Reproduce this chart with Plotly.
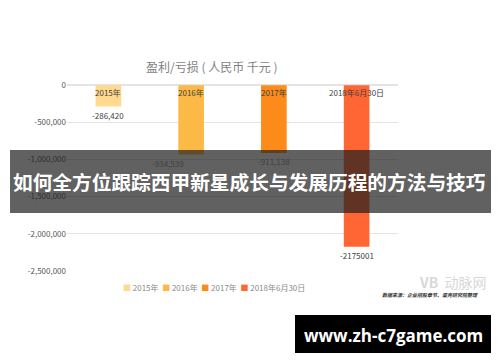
import plotly.graph_objects as go

categories = ["2015年", "2016年", "2017年", "2018年6月30日"]
values = [-286420, -934539, -911138, -2175001]
value_labels = ["-286,420", "-934,539", "-911,138", "-2175001"]
colors = ["#FFDA8E", "#FDB946", "#FD8B1A", "#FF6633"]
y_ticks = [0, -500000, -1000000, -1500000, -2000000, -2500000]
y_tick_labels = ["0", "-500,000", "-1,000,000", "-1,500,000", "-2,000,000", "-2,500,000"]
label_xshift = [0, -23, 0, 0]

W, H = 500, 362
L, R, T, B = 67, 102, 85, 91
pw, ph = W - L - R, H - T - B

def px(x):
    return (x - L) / pw

def py(y):
    return (H - B - y) / ph

CJK = "Noto Sans CJK SC"

fig = go.Figure()
for c, v, col in zip(categories, values, colors):
    fig.add_trace(go.Bar(x=[c], y=[v], name=c, marker=dict(color=col, line=dict(width=0)),
                         width=0.31, showlegend=False, hoverinfo="skip"))

ann = []
# category labels just below the zero line
for c in categories:
    ann.append(dict(x=c, y=0, xref="x", yref="y", text=c, showarrow=False,
                    xanchor="center", yanchor="middle", yshift=-7,
                    font=dict(family=CJK, size=8, color="#404040")))
for c, v, lab, xs in zip(categories, values, value_labels, label_xshift):
    ann.append(dict(x=c, y=v, xref="x", yref="y", text=lab, showarrow=False,
                    xanchor="center", yanchor="middle",
                    yshift=-9, xshift=xs, font=dict(family=CJK, size=8, color="#404040")))

def pann(x, y, text, size, color, family=CJK):
    return dict(x=px(x), y=py(y), xref="paper", yref="paper", text=text, showarrow=False,
                xanchor="center", yanchor="middle", font=dict(family=family, size=size, color=color))

# title
ann.append(pann(212, 66, "盈利/亏损 ( 人民币 千元 )", 12, "#7f7f7f"))

# legend built from data
leg = "  ".join(f"<span style='color:{col}'>■</span> {c}" for c, col in zip(categories, colors))
ann.append(pann(214, 287, leg, 8, "#8a8a8a"))

# watermark
ann.append(pann(452, 282, "<b>VB</b>  动脉网", 14, "#d8d8d8"))
ann.append(pann(430, 294, "<b><i>数据来源：企业招股章节、蛋壳研究院整理</i></b>", 5, "#333333"))

# banner
ann.append(pann(250, 181, "<b>如何全方位跟踪西甲新星成长与发展历程的方法与技巧</b>", 19.7, "#ffffff"))
ann.append(pann(393, 335, "<b>www.zh-c7game.com</b>", 17, "#ffffff", "Open Sans"))

shapes = [
    dict(type="rect", xref="paper", yref="paper", x0=px(10), x1=px(491), y0=py(213), y1=py(150),
         fillcolor="rgba(30,30,30,0.7)", line=dict(width=0), layer="above"),
    dict(type="rect", xref="paper", yref="paper", x0=px(295), x1=px(491), y0=py(353), y1=py(315),
         fillcolor="#000000", line=dict(width=0), layer="above"),
]

fig.update_layout(
    width=W, height=H,
    margin=dict(l=L, r=R, t=T, b=B),
    paper_bgcolor="white", plot_bgcolor="white",
    barmode="overlay",
    annotations=ann, shapes=shapes,
    xaxis=dict(showticklabels=False, showgrid=False, showline=False, zeroline=False,
               ticks="", automargin=False,
               categoryorder="array", categoryarray=categories),
    yaxis=dict(range=[-2500000, 2000], tickvals=y_ticks, ticktext=y_tick_labels, automargin=False,
               showgrid=True, gridcolor="#e4e4e4", gridwidth=1, zeroline=True,
               zerolinecolor="#e4e4e4", showline=False, ticks="",
               tickfont=dict(family=CJK, size=8, color="#595959")),
    font=dict(family=CJK),
)

fig.write_html("out.html", config={"displayModeBar": False},
               post_script="document.body.style.margin='0';")
